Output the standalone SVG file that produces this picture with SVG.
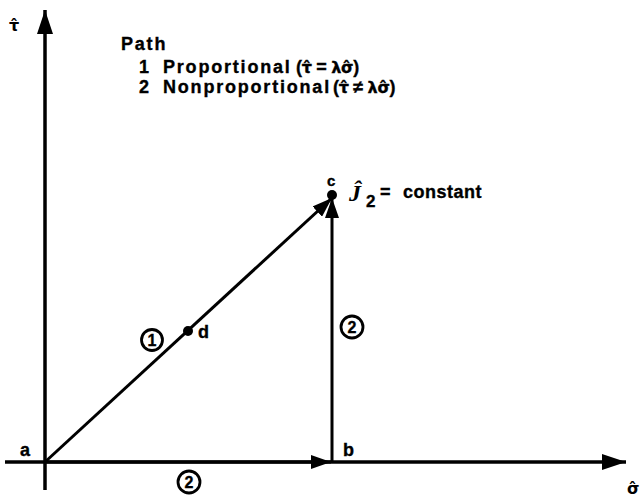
<svg xmlns="http://www.w3.org/2000/svg" width="640" height="498" viewBox="0 0 640 498">
<style>
.ln{stroke:#000;fill:none;stroke-linecap:butt}
.ax{stroke-width:3.5}
.pt{stroke-width:3}
.t{font-family:"Liberation Sans",Arial,sans-serif;font-weight:bold;fill:#000;stroke:#000;stroke-width:0.35}
.lg{font-size:18px;letter-spacing:1.8px}
.pr{letter-spacing:-0.3px}
.lb{font-size:18px}
.cn{font-size:16px;text-anchor:middle}
.sym{font-family:"DejaVu Sans",sans-serif;font-weight:bold;fill:#000}
.cc{fill:none;stroke:#000;stroke-width:2.8}
</style>
<defs>
<marker id="ah" viewBox="0 0 20 14" refX="20" refY="7" markerWidth="20" markerHeight="14" markerUnits="userSpaceOnUse" orient="auto">
<path d="M0,0 L20,7 L0,14 Z" fill="#000"/>
</marker>
<marker id="axh" viewBox="0 0 24 16" refX="24" refY="8" markerWidth="24" markerHeight="16" markerUnits="userSpaceOnUse" orient="auto">
<path d="M0,0 L24,8 L0,16 Z" fill="#000"/>
</marker>
</defs>

<g id="axes">
<line class="ln ax" x1="45" y1="490" x2="45" y2="10" marker-end="url(#axh)"/>
<line class="ln ax" x1="5" y1="462" x2="626" y2="462" marker-end="url(#axh)"/>
<text class="sym" x="9" y="31" font-size="16">τ̂</text>
<text class="sym" x="627" y="494" font-size="16">σ̂</text>
</g>

<g id="connectors">
<line class="ln pt" x1="45" y1="462" x2="331" y2="462" marker-end="url(#ah)"/>
<line class="ln pt" x1="45" y1="462" x2="332" y2="198" marker-end="url(#ah)"/>
<line class="ln pt" x1="332" y1="462" x2="332" y2="198" marker-end="url(#ah)"/>
</g>

<g id="legend">
<text class="t lg" x="121" y="50">Path</text>
<text class="t lg" x="139" y="73">1</text>
<text class="t lg" x="163" y="73">Proportional<tspan class="pr" x="296">(<tspan class="sym" font-size="16">τ̂</tspan> = <tspan class="sym" font-size="16">λσ̂</tspan>)</tspan></text>
<text class="t lg" x="139" y="93">2</text>
<text class="t lg" x="163" y="93">Nonproportional<tspan class="pr" x="333">(<tspan class="sym" font-size="16">τ̂</tspan> ≠ <tspan class="sym" font-size="16">λσ̂</tspan>)</tspan></text>
</g>

<g id="node-a">
<text class="t lb" x="20" y="456">a</text>
</g>
<g id="node-b">
<text class="t lb" x="343" y="456">b</text>
</g>
<g id="node-c">
<circle cx="332" cy="195" r="5" fill="#000"/>
<text class="t" font-size="15" x="327" y="186">c</text>
<text x="349" y="201" font-family="Liberation Serif,serif" font-style="italic" font-weight="bold" font-size="24">Ĵ</text>
<text class="t" x="366" y="207" font-size="17">2</text>
<text class="t lb" x="380" y="198">=</text>
<text class="t lb" x="403" y="198" letter-spacing="0.5">constant</text>
</g>
<g id="node-d">
<circle cx="188" cy="331" r="5" fill="#000"/>
<text class="t lb" x="198" y="338">d</text>
</g>

<g id="label-1">
<circle class="cc" cx="152" cy="340" r="10.5"/>
<text class="t cn" x="152" y="346">1</text>
</g>
<g id="label-2v">
<circle class="cc" cx="352" cy="327" r="11"/>
<text class="t cn" x="352" y="333">2</text>
</g>
<g id="label-2h">
<circle class="cc" cx="189" cy="482" r="11"/>
<text class="t cn" x="189" y="488">2</text>
</g>
</svg>
